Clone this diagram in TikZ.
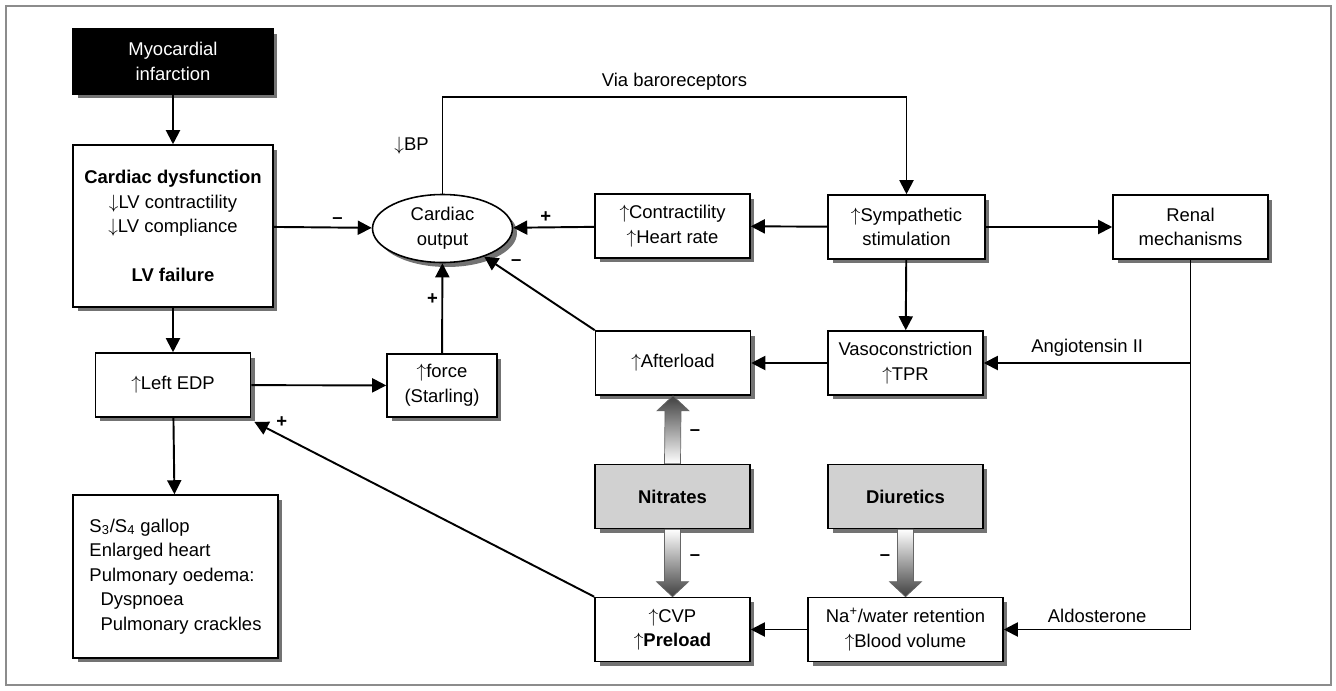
\documentclass[tikz,border=0pt]{standalone}
\usepackage{fontspec}
\setmainfont{Liberation Sans}
\usetikzlibrary{positioning,shapes.geometric,shadows,arrows.meta,calc}

\newcommand{\up}{$\uparrow$}
\newcommand{\down}{$\downarrow$}

\begin{document}
\begin{tikzpicture}[x=0.02cm,y=-0.02cm,
    font=\fontsize{10.5}{14}\selectfont,
    box/.style={draw, fill=white, line width=0.9pt, align=center,
      minimum width=3.1cm, minimum height=1.28cm, inner sep=2pt,
      drop shadow={shadow xshift=0.09cm, shadow yshift=-0.09cm, fill=black!55, opacity=1}},
    drug/.style={box, fill=black!18, font=\fontsize{10.5}{14}\selectfont\bfseries},
    arr/.style={line width=1.1pt, -{Triangle[length=0.28cm,width=0.28cm]}},
    fat/.style={draw=black!60, line width=0.4pt},
    sgn/.style={font=\fontsize{10.5}{14}\selectfont\bfseries, inner sep=2pt}]
  % Frame
  \useasboundingbox (0,0) rectangle (1336,690);
  \draw[black!45, line width=0.8pt] (6,6) rectangle (1331,685);

  % Left column
  \node[box, fill=black, text=white, minimum width=4cm, minimum height=1.3cm] (mi) at (173,61.5) {Myocardial\\infarction};
  \node[box, minimum width=4cm, minimum height=3.24cm] (cd) at (173,226)
    {\textbf{Cardiac dysfunction}\\\down LV contractility\\\down LV compliance\\[14pt]\textbf{LV failure}};
  \node[box] (edp) at (173,385) {\up Left EDP};
  \node[box, minimum width=4.1cm, minimum height=3.26cm, align=left] (sym) at (175.5,576.5)
    {S\textsubscript{3}/S\textsubscript{4} gallop\\Enlarged heart\\Pulmonary oedema:\\\hspace*{0.6em}Dyspnoea\\\hspace*{0.6em}Pulmonary crackles};

  % Middle
  \node[box, ellipse, minimum width=2.8cm, minimum height=1.36cm, inner sep=0pt] (co) at (442.5,228.5) {Cardiac\\output};
  \node[box, minimum width=2.2cm, minimum height=1.26cm] (starl) at (442,385.5) {\up force\\(Starling)};
  \node[box] (chr) at (672.5,226) {\up Contractility\\\up Heart rate};
  \node[box] (aft) at (673,363) {\up Afterload};
  \node[drug] (nit) at (672.5,496.5) {Nitrates};
  \node[box] (cvp) at (672.5,629.5) {\up CVP\\\up\textbf{Preload}};

  % Right
  \node[box, minimum width=3.14cm] (symp) at (906.5,227) {\up Sympathetic\\stimulation};
  \node[box] (vaso) at (905.5,363) {Vasoconstriction\\\up TPR};
  \node[drug] (diu) at (905.5,496.5) {Diuretics};
  \node[box, minimum width=3.9cm] (na) at (905.5,629.5) {Na\textsuperscript{+}/water retention\\\up Blood volume};
  \node[box] (renal) at (1190.5,227) {Renal\\mechanisms};

  % Connectors
  \draw[arr] (mi) -- (cd);
  \draw[arr] (cd) -- node[sgn, above, pos=0.65] {\textendash} (co);
  \draw[arr] (cd) -- (edp);
  \draw[arr] (edp) -- (sym);
  \draw[arr] (edp) -- (starl);
  \draw[arr] (starl) -- node[sgn, left, pos=0.6] {+} (co);
  \draw[arr] (chr) -- node[sgn, above, pos=0.6] {+} (co);
  \draw[arr] (symp) -- (chr);
  \draw[arr] (symp) -- (renal);
  \draw[arr] (symp) -- (vaso);
  \draw[arr] (co.north) -- node[left=4pt] {\down BP} ++(0,-97)
    -| node[above, pos=0.25] {Via baroreceptors} (symp.north);
  \draw[arr] (aft.north west) -- (co.-34);
  \node[sgn] (m0) at ($(co.-34)+(32,6)$) {\textendash};
  \draw[arr] (vaso) -- (aft);
  \draw[line width=1.1pt] (renal.south) -- (renal.south |- na.east);
  \draw[arr] (renal.south |- vaso.east) -- node[above] {Angiotensin II} (vaso.east);
  \draw[arr] (renal.south |- na.east) -- node[above] {Aldosterone} (na.east);
  \draw[arr] (na) -- (cvp);
  \draw[arr] (cvp.north west) -- ($(edp.south east)+(3,4)$) node[sgn, right=10pt] {+};

  % Drug arrows
  \shadedraw[fat, top color=black!75, bottom color=white]
    ($(nit.north)+(-8,0)$) -- ($(aft.south)+(-8,15)$) -- ($(aft.south)+(-16,15)$) -- (aft.south)
    -- ($(aft.south)+(16,15)$) -- ($(aft.south)+(8,15)$) -- ($(nit.north)+(8,0)$) -- cycle;
  \shadedraw[fat, top color=white, bottom color=black!75]
    ($(nit.south)+(-8,0)$) -- ($(cvp.north)+(-8,-15)$) -- ($(cvp.north)+(-16,-15)$) -- (cvp.north)
    -- ($(cvp.north)+(16,-15)$) -- ($(cvp.north)+(8,-15)$) -- ($(nit.south)+(8,0)$) -- cycle;
  \shadedraw[fat, top color=white, bottom color=black!75]
    ($(diu.south)+(-8,0)$) -- ($(na.north)+(-8,-15)$) -- ($(na.north)+(-16,-15)$) -- (na.north)
    -- ($(na.north)+(16,-15)$) -- ($(na.north)+(8,-15)$) -- ($(diu.south)+(8,0)$) -- cycle;
  \node[sgn] (m1) at (695,433) {\textendash};
  \node[sgn] (m2) at (695,558) {\textendash};
  \node[sgn] (m3) at (885,558) {\textendash};
\end{tikzpicture}
\end{document}
